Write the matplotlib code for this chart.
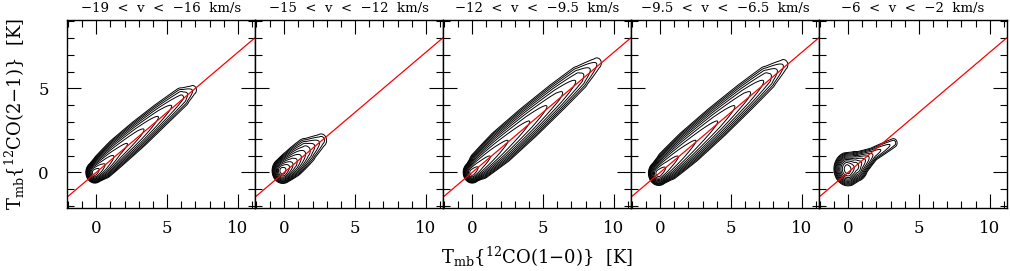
import matplotlib
matplotlib.use('Agg')
import matplotlib.pyplot as plt
from matplotlib.ticker import MultipleLocator
import numpy as np

plt.rcParams.update({'font.family': 'DejaVu Serif', 'mathtext.fontset': 'dejavuserif'})

# velocity ranges (panel titles)
titles = ['\u221219  <  v  <  \u221216  km/s',
          '\u221215  <  v  <  \u221212  km/s',
          '\u221212  <  v  <  \u22129.5  km/s',
          '\u22129.5  <  v  <  \u22126.5  km/s',
          '\u22126  <  v  <  \u22122  km/s']

# ridge of the T(2-1) vs T(1-0) distribution
# x = T(1-0), y = T(2-1), amp = relative density, wid = spread [K]
ridge_x = [
    [-0.1, 0.5, 1.5, 3.0, 4.5, 6.0, 6.8],
    [-0.1, 0.6, 1.5, 2.6],
    [0.0, 0.6, 2.0, 4.0, 6.0, 7.5, 8.8],
    [-0.1, 0.6, 2.0, 4.0, 6.0, 7.5, 8.7],
    [0.0, 0.5, 1.8, 3.2],
]
ridge_y = [
    [0.0, 0.4, 1.2, 2.3, 3.4, 4.45, 4.9],
    [0.1, 0.55, 1.25, 1.9],
    [0.0, 0.45, 1.5, 3.0, 4.5, 5.6, 6.5],
    [-0.05, 0.45, 1.5, 3.0, 4.5, 5.6, 6.4],
    [0.2, 0.35, 1.1, 1.75],
]
ridge_amp = [
    [1.0, 0.5, 0.25, 0.15, 0.08, 0.04, 0.015],
    [1.0, 0.3, 0.08, 0.02],
    [1.0, 0.6, 0.35, 0.2, 0.1, 0.05, 0.015],
    [1.0, 0.6, 0.35, 0.2, 0.1, 0.05, 0.015],
    [1.0, 0.4, 0.05, 0.02],
]
ridge_wid = [
    [0.21, 0.28, 0.33, 0.35, 0.35, 0.35, 0.3],
    [0.25, 0.32, 0.38, 0.33],
    [0.21, 0.3, 0.38, 0.4, 0.4, 0.4, 0.35],
    [0.24, 0.32, 0.38, 0.4, 0.4, 0.4, 0.35],
    [0.33, 0.33, 0.22, 0.22],
]
slope = 0.715  # red reference line


def ridge_density(X, Y, kx, ky, ka, kw):
    D = np.zeros_like(X)
    for i in range(len(kx) - 1):
        vx, vy = kx[i + 1] - kx[i], ky[i + 1] - ky[i]
        t = ((X - kx[i]) * vx + (Y - ky[i]) * vy) / (vx * vx + vy * vy)
        t = np.clip(t, 0, 1)
        d2 = (X - kx[i] - t * vx) ** 2 + (Y - ky[i] - t * vy) ** 2
        a = np.exp(np.log(ka[i]) + t * (np.log(ka[i + 1]) - np.log(ka[i])))
        w = kw[i] + t * (kw[i + 1] - kw[i])
        D = np.maximum(D, a * np.exp(-d2 / (2 * w * w)))
    return D


xg = np.linspace(-2, 11.2, 400)
yg = np.linspace(-2.1, 9.1, 400)
X, Y = np.meshgrid(xg, yg)
levels = 10 ** np.linspace(-2, -0.15, 11)

fig = plt.figure(figsize=(10.1, 2.71), dpi=100)
left, width, bottom, height = 0.0663, 0.1861, 0.2325, 0.6937

for k in range(5):
    ax = fig.add_axes([left + k * width, bottom, width, height])
    D = ridge_density(X, Y, ridge_x[k], ridge_y[k], ridge_amp[k], ridge_wid[k])
    ax.contour(X, Y, D, levels=levels, colors='black', linewidths=0.7)
    lx = np.array([-2.1, 11.3])
    ax.plot(lx, slope * lx, color='red', lw=0.9)
    ax.set_xlim(-2.07, 11.2)
    ax.set_ylim(-2.12, 9.07)
    ax.xaxis.set_major_locator(MultipleLocator(5))
    ax.xaxis.set_minor_locator(MultipleLocator(1))
    ax.yaxis.set_major_locator(MultipleLocator(5))
    ax.yaxis.set_minor_locator(MultipleLocator(1))
    ax.tick_params(which='both', direction='in', top=True, right=True, labelsize=12, width=0.8)
    ax.tick_params(which='major', length=10)
    ax.tick_params(which='minor', length=5)
    ax.tick_params(axis='x', which='major', pad=9)
    ax.tick_params(axis='y', which='major', pad=13)
    for s in ax.spines.values():
        s.set_linewidth(1.0)
    if k > 0:
        ax.set_yticklabels([])
    else:
        ax.set_ylabel(r'T$_{\rm mb}${$^{12}$CO(2$-$1)}  [K]', fontsize=13)
        ax.yaxis.set_label_coords(-0.215, 0.5)
    if k == 2:
        ax.set_xlabel(r'T$_{\rm mb}${$^{12}$CO(1$-$0)}  [K]', fontsize=13, labelpad=5)
    ax.set_title(titles[k], fontsize=9.5, pad=6)

fig.savefig('out.png', dpi=100)
